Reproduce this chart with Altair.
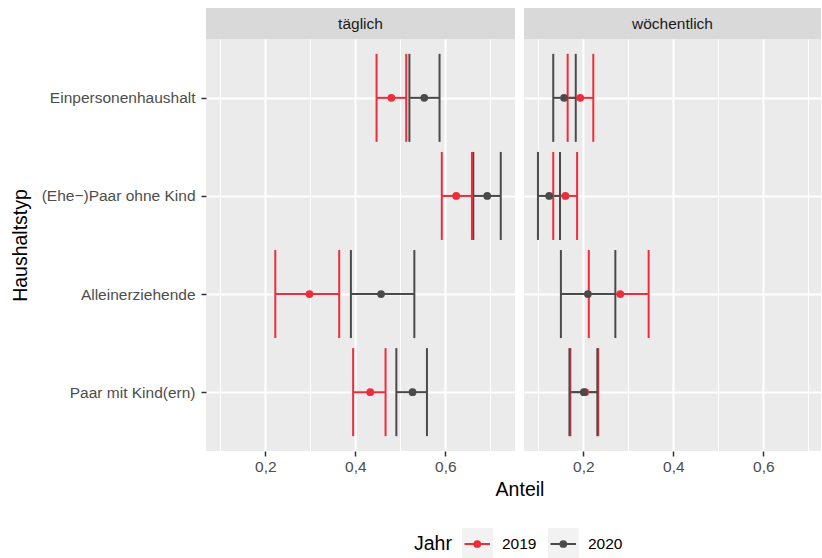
import altair as alt
import pandas as pd

FONT = "Liberation Sans"

categories = ["Einpersonenhaushalt", "(Ehe\u2212)Paar ohne Kind", "Alleinerziehende", "Paar mit Kind(ern)"]
years = ["2019", "2020"]
panels = ["täglich", "wöchentlich"]

taeglich_2019_est = [0.480, 0.624, 0.298, 0.433]
taeglich_2019_lo = [0.447, 0.592, 0.222, 0.395]
taeglich_2019_hi = [0.513, 0.659, 0.364, 0.467]
taeglich_2020_est = [0.553, 0.693, 0.457, 0.527]
taeglich_2020_lo = [0.520, 0.662, 0.390, 0.491]
taeglich_2020_hi = [0.587, 0.723, 0.531, 0.559]

woech_2019_est = [0.193, 0.160, 0.282, 0.204]
woech_2019_lo = [0.165, 0.133, 0.212, 0.171]
woech_2019_hi = [0.222, 0.186, 0.345, 0.233]
woech_2020_est = [0.157, 0.124, 0.210, 0.201]
woech_2020_lo = [0.133, 0.099, 0.150, 0.169]
woech_2020_hi = [0.183, 0.148, 0.271, 0.231]

major_ticks = [0.2, 0.4, 0.6]
minor_ticks = [0.1, 0.3, 0.5, 0.7]
colors = ["#EE2C3A", "#4A4A4A"]


def build(est19, lo19, hi19, est20, lo20, hi20):
    recs = []
    for yr, est, lo, hi in [("2019", est19, lo19, hi19), ("2020", est20, lo20, hi20)]:
        for c, e, l, h in zip(categories, est, lo, hi):
            recs.append({"Haushaltstyp": c, "Jahr": yr, "Anteil": e, "lo": l, "hi": h})
    return pd.DataFrame(recs)


df_t = build(taeglich_2019_est, taeglich_2019_lo, taeglich_2019_hi,
             taeglich_2020_est, taeglich_2020_lo, taeglich_2020_hi)
df_w = build(woech_2019_est, woech_2019_lo, woech_2019_hi,
             woech_2020_est, woech_2020_lo, woech_2020_hi)

XMIN = 0.068
PX_PER_UNIT = 450.0
H = 412
STRIP = 31
CAP = 44

color_scale = alt.Scale(domain=years, range=colors)


def legend_layers():
    """Bottom legend (ggplot style), placed relative to the left panel's plot origin."""
    one = pd.DataFrame({"k": [0]})
    layers = [
        alt.Chart(one).mark_text(font=FONT, fontSize=19.5, color="#000000", align="left",
                                 baseline="middle").encode(
            x=alt.value(208), y=alt.value(505), text=alt.value("Jahr"))
    ]
    for i, (yr, col) in enumerate(zip(years, colors)):
        dx = 86 * i
        layers += [
            alt.Chart(one).mark_rect(color="#F2F2F2").encode(
                x=alt.value(256 + dx), x2=alt.value(287 + dx), y=alt.value(489), y2=alt.value(519)),
            alt.Chart(one).mark_rule(color=col, strokeWidth=2).encode(
                x=alt.value(258.5 + dx), x2=alt.value(284 + dx), y=alt.value(505)),
            alt.Chart(one).mark_circle(color=col, size=60, opacity=1).encode(
                x=alt.value(271.3 + dx), y=alt.value(505)),
            alt.Chart(one).mark_text(font=FONT, fontSize=15.5, color="#000000", align="left",
                                     baseline="middle").encode(
                x=alt.value(296 + dx), y=alt.value(505), text=alt.value(yr)),
        ]
    return layers


def panel(df, label, width, first):
    xmax = XMIN + width / PX_PER_UNIT
    xs = alt.Scale(domain=[XMIN, xmax], nice=False, zero=False)
    if first:
        yaxis = alt.Axis(title="Haushaltstyp", labels=True, ticks=True, tickSize=5, tickWidth=1.5,
                         tickColor="#333333", labelColor="#4D4D4D", labelFontSize=15.5,
                         labelPadding=6, titleFontSize=19.5, titleColor="#000000",
                         titleFontWeight="normal", titlePadding=11, domain=False,
                         grid=True, gridColor="white", gridWidth=2)
        xaxis = alt.Axis(values=major_ticks, title="Anteil", titleX=520.5 - 207, titleAlign="center",
                         titleFontSize=19.5, titleFontWeight="normal", titleColor="#000000",
                         titlePadding=6,
                         labelExpr="replace(format(datum.value, '.1f'), '.', ',')",
                         tickSize=5, tickWidth=1.5, tickColor="#333333", labelColor="#4D4D4D",
                         labelFontSize=15.5, labelPadding=3, domain=False,
                         grid=True, gridColor="white", gridWidth=2)
    else:
        yaxis = alt.Axis(title=None, labels=False, ticks=False, domain=False,
                         grid=True, gridColor="white", gridWidth=2)
        xaxis = alt.Axis(values=major_ticks, title=None,
                         labelExpr="replace(format(datum.value, '.1f'), '.', ',')",
                         tickSize=5, tickWidth=1.5, tickColor="#333333", labelColor="#4D4D4D",
                         labelFontSize=15.5, labelPadding=3, domain=False,
                         grid=True, gridColor="white", gridWidth=2)
    minor_axis = alt.Axis(values=minor_ticks, orient="top", title=None, labels=False, ticks=False,
                          domain=False, grid=True, gridColor="white", gridWidth=1)
    y = alt.Y("Haushaltstyp:N", sort=categories,
              scale=alt.Scale(type="point", padding=0.6), axis=yaxis)
    col = alt.Color("Jahr:N", scale=color_scale, legend=None)

    base = alt.Chart(df)
    bars = base.mark_rule(strokeWidth=2, opacity=1).encode(
        x=alt.X("lo:Q", scale=xs, axis=minor_axis),
        x2="hi:Q",
        y=y,
        color=col,
    )
    cap_lo = base.mark_rule(strokeWidth=2, opacity=1, yOffset=-CAP, y2Offset=CAP).encode(
        x=alt.X("lo:Q", scale=xs, axis=xaxis),
        y=y,
        y2="Haushaltstyp:N",
        color=col,
    )
    cap_hi = base.mark_rule(strokeWidth=2, opacity=1, yOffset=-CAP, y2Offset=CAP).encode(
        x=alt.X("hi:Q", scale=xs, axis=None),
        y=y,
        y2="Haushaltstyp:N",
        color=col,
    )
    pts = base.mark_point(filled=True, size=60, opacity=1).encode(
        x=alt.X("Anteil:Q", scale=xs, axis=None),
        y=y,
        color=col,
    )
    sdf = pd.DataFrame({"panel": [label]})
    strip_bg = alt.Chart(sdf).mark_rect(color="#D9D9D9").encode(
        x=alt.value(0), x2=alt.value(width), y=alt.value(-STRIP), y2=alt.value(0))
    strip_tx = alt.Chart(sdf).mark_text(font=FONT, fontSize=15.5, color="#1A1A1A").encode(
        x=alt.value(width / 2), y=alt.value(-STRIP / 2), text="panel:N")
    layers = [bars, cap_lo, cap_hi, pts, strip_bg, strip_tx]
    if first:
        layers += legend_layers()
    return alt.layer(*layers).resolve_axis(x="independent").properties(width=width, height=H)


left = panel(df_t, panels[0], 309, True)
right = panel(df_w, panels[1], 297, False)

chart = alt.hconcat(left, right, spacing=9, bounds="flush").properties(
    padding={"left": 10, "top": 8, "right": 0, "bottom": 0}
).configure(font=FONT).configure_view(fill="#EBEBEB", stroke=None)

chart.save("out.html", embed_options={"renderer": "svg", "actions": False})
